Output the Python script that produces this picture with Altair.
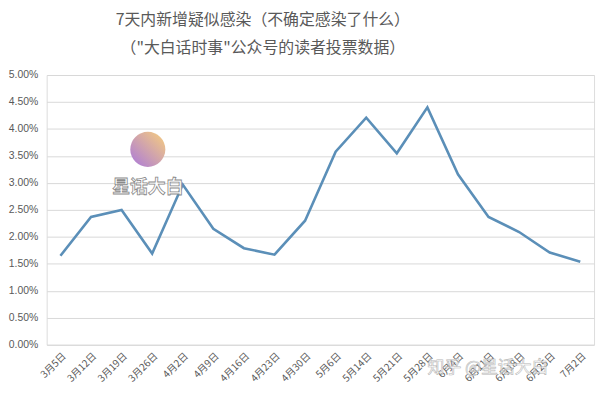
import altair as alt
import pandas as pd

dates = ["3月5日", "3月12日", "3月19日", "3月26日", "4月2日", "4月9日", "4月16日",
         "4月23日", "4月30日", "5月6日", "5月14日", "5月21日", "5月28日", "6月4日",
         "6月11日", "6月18日", "6月25日", "7月2日"]
values = [0.0165, 0.0237, 0.0250, 0.0169, 0.0297, 0.0215, 0.0179,
          0.0167, 0.0230, 0.0358, 0.0421, 0.0355, 0.0440, 0.0316,
          0.0237, 0.0209, 0.0171, 0.0154]
y_ticks = [i * 0.005 for i in range(11)]

df = pd.DataFrame({"date": dates, "value": values})

base = alt.Chart(df)

line = base.mark_line(color="#5b8fb8", strokeWidth=2.6).encode(
    x=alt.X("date:N", sort=dates, title=None,
            scale=alt.Scale(type="point", padding=0.45),
            axis=alt.Axis(labelAngle=-45, labelFontSize=10, labelColor="#595959",
                          ticks=False, domain=False, grid=False, labelPadding=6,
                          labelFont="Noto Sans CJK SC")),
    y=alt.Y("value:Q", title=None,
            scale=alt.Scale(domain=[0, 0.05], nice=False),
            axis=alt.Axis(values=y_ticks, format=".2%", labelFontSize=10.5,
                          labelColor="#595959", ticks=False, domain=False,
                          gridColor="#d9d9d9", labelPadding=9,
                          labelFont="Liberation Sans")),
)

logo = alt.Chart(pd.DataFrame({"a": [0]})).mark_circle(
    size=1250, opacity=1,
    fill=alt.Gradient(gradient="linear", x1=1, y1=0, x2=0, y2=1,
                      stops=[alt.GradientStop(offset=0, color="#f8cf7c"),
                             alt.GradientStop(offset=1, color="#a978dc")]),
).encode(x=alt.value(102), y=alt.value(75))

wm1 = alt.Chart(pd.DataFrame({"t": ["星话大白"]})).mark_text(
    fontSize=18, fontWeight="bold", fill="white", stroke="#8a8a8a", strokeWidth=0.8,
    font="Noto Sans CJK SC",
).encode(x=alt.value(102), y=alt.value(114), text="t:N")

wm2 = alt.Chart(pd.DataFrame({"t": ["知乎 @星话大白"]})).mark_text(
    fontSize=17, fill="white", fillOpacity=0.5, stroke="#b8b8b8", strokeWidth=0.6,
    font="Noto Sans CJK SC",
).encode(x=alt.value(445), y=alt.value(295), text="t:N")

chart = alt.layer(line, logo, wm1, wm2).properties(
    width=552, height=272,
    title=alt.TitleParams(
        text=["7天内新增疑似感染（不确定感染了什么）", "（\"大白话时事\"公众号的读者投票数据）"],
        fontSize=16, fontWeight="normal", color="#595959", font="Noto Sans CJK SC",
        lineHeight=28, anchor="middle", dx=-58, offset=14,
    ),
    padding={"left": 0, "top": 3, "right": 5, "bottom": 0},
).configure_view(stroke=None).configure(background="white")

chart.save("out.html", embed_options={"renderer": "svg", "actions": False})
